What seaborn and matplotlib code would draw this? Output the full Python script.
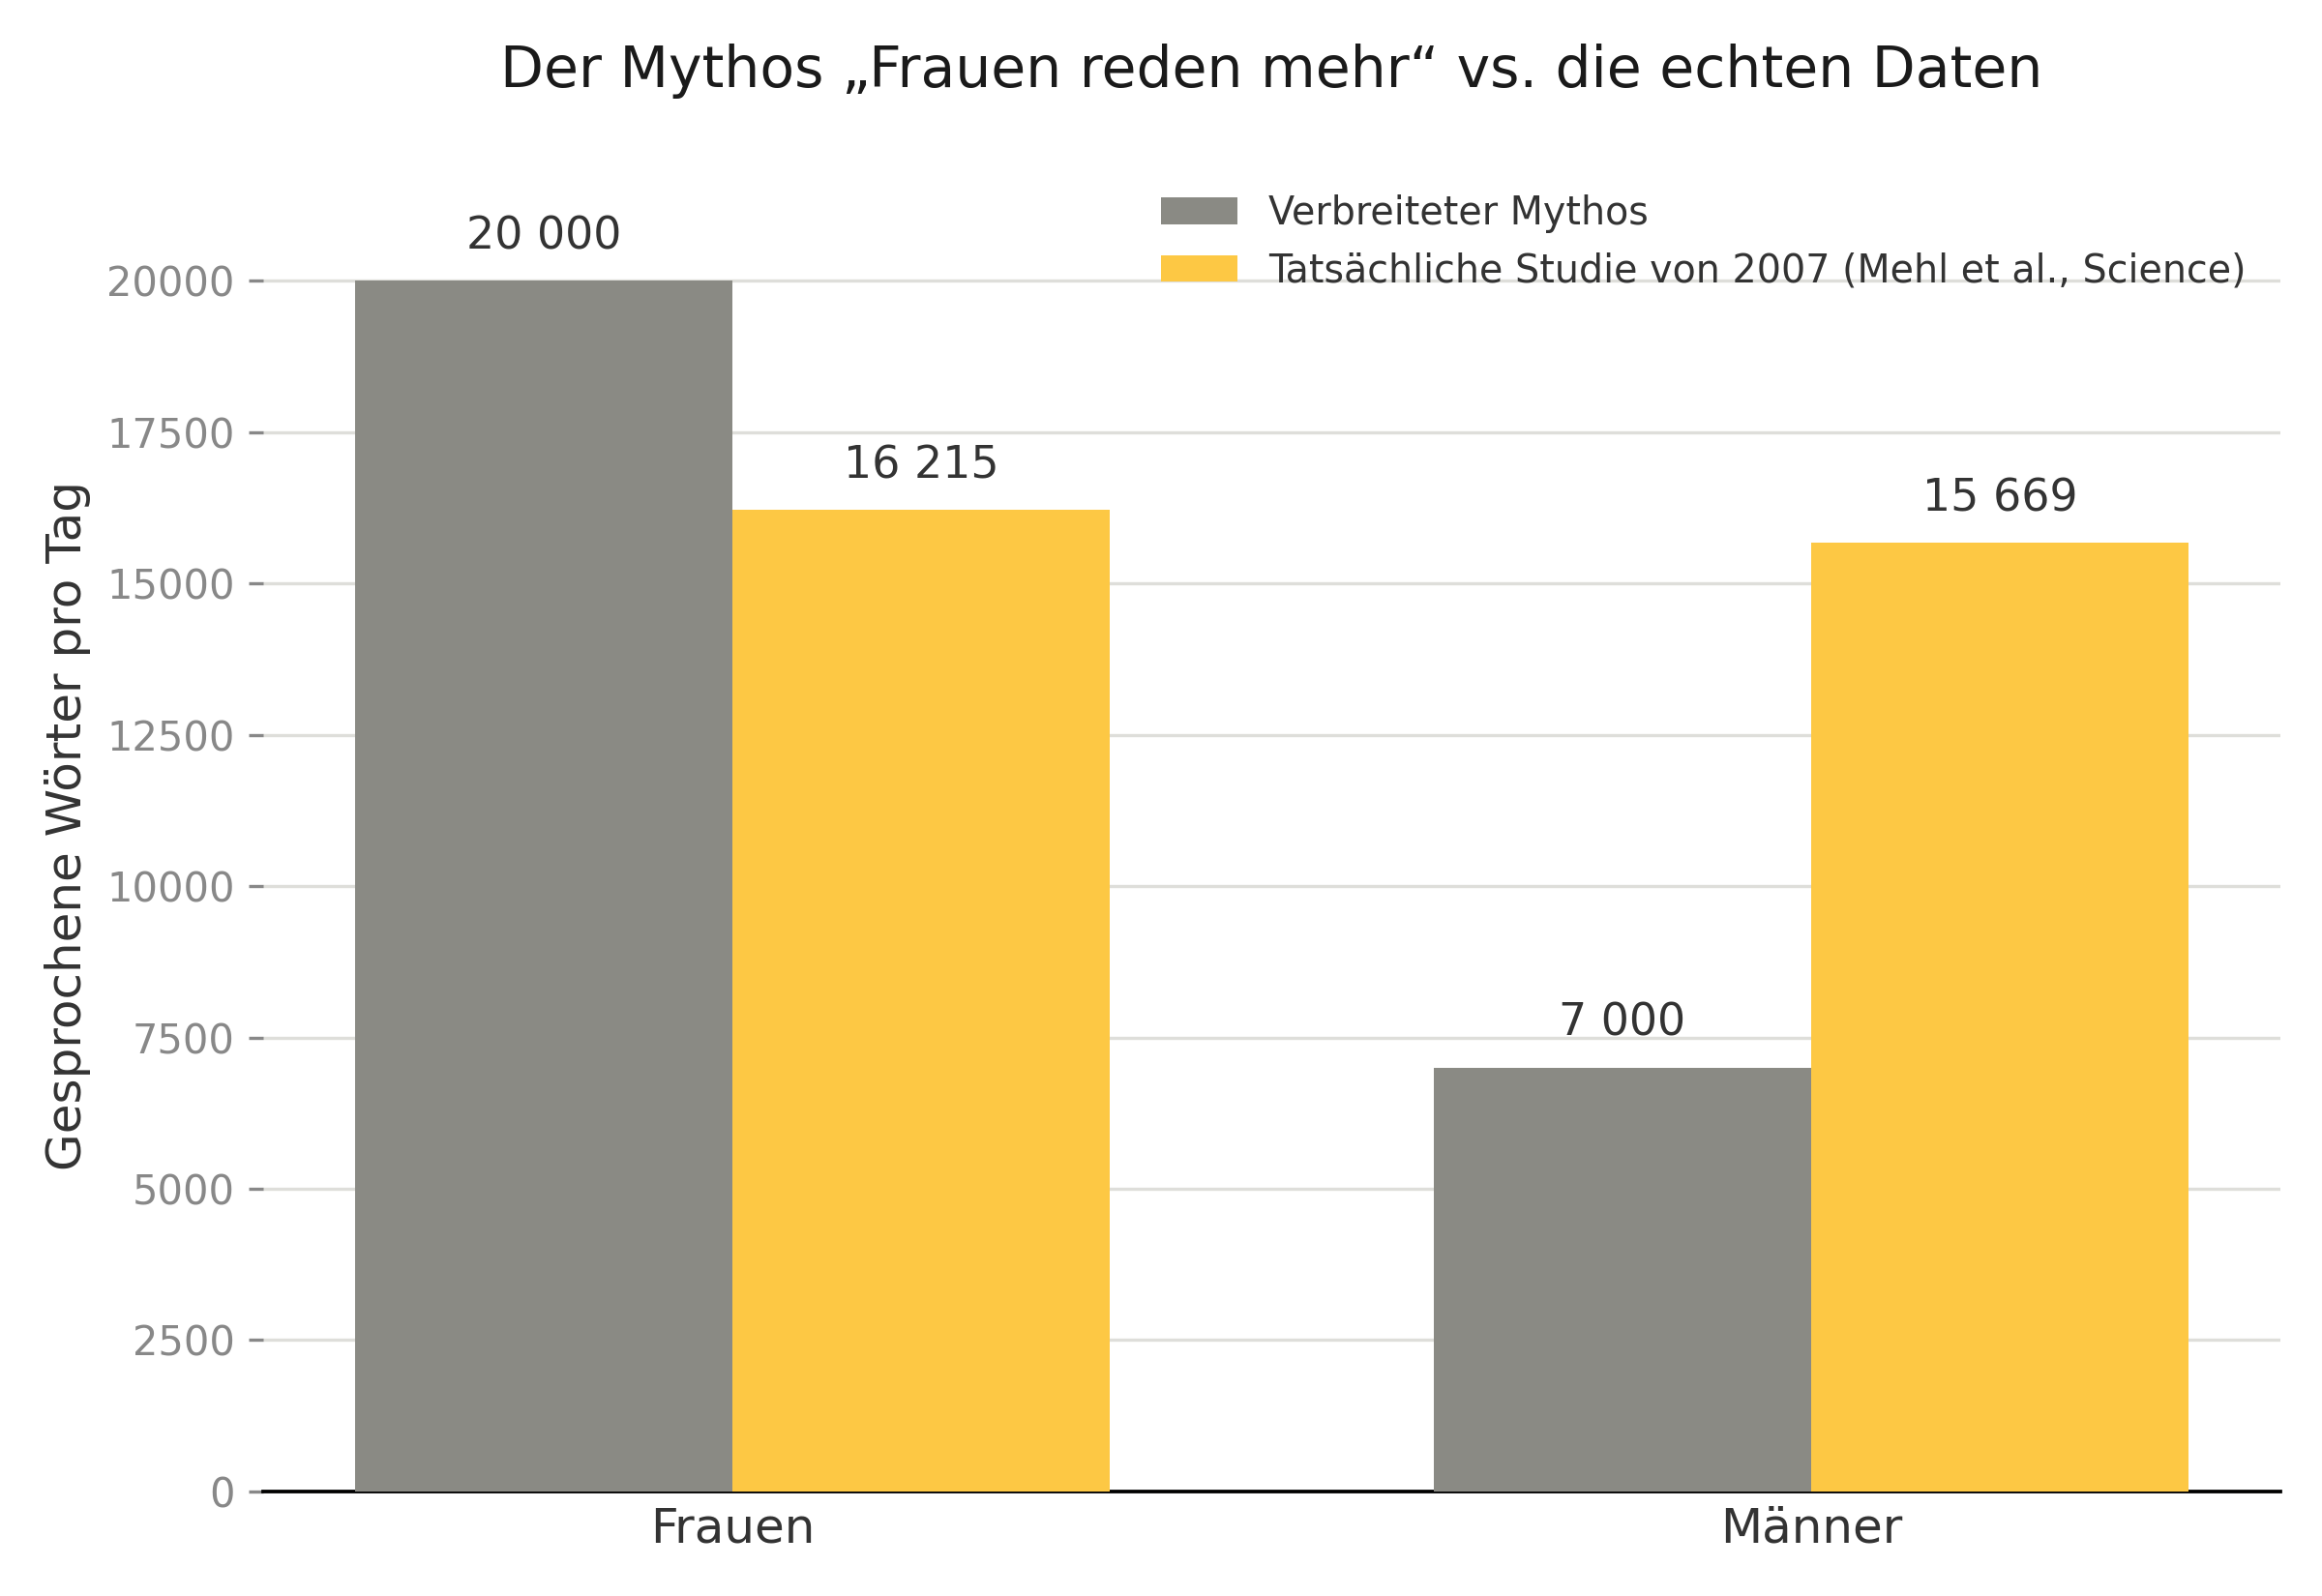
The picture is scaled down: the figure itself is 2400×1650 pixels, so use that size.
import matplotlib
matplotlib.use("Agg")
import matplotlib.pyplot as plt
import seaborn as sns
import pandas as pd

# Data
gruppen = ["Frauen", "Männer"]
serien = ["Verbreiteter Mythos", "Tatsächliche Studie von 2007 (Mehl et al., Science)"]
mythos = [20000, 7000]
studie = [16215, 15669]
y_ticks = [0, 2500, 5000, 7500, 10000, 12500, 15000, 17500, 20000]

df = pd.DataFrame({
    "Gruppe": gruppen * 2,
    "Quelle": [serien[0]] * 2 + [serien[1]] * 2,
    "Woerter": mythos + studie,
})

sns.set_theme(style="white")
plt.rcParams["font.family"] = ["DejaVu Sans"]

fig, ax = plt.subplots(figsize=(8, 5.5), dpi=300)
fig.subplots_adjust(left=0.1133, right=0.982, bottom=0.0655, top=0.90)

farben = {serien[0]: "#8a8a84", serien[1]: "#fdc844"}
sns.barplot(data=df, x="Gruppe", y="Woerter", hue="Quelle", palette=farben,
            width=0.7, saturation=1, linewidth=0, ax=ax, zorder=3)

# Value labels with space as thousands separator
for cont in ax.containers:
    for bar in cont:
        h = bar.get_height()
        ax.annotate(f"{int(round(h)):,}".replace(",", " "),
                    (bar.get_x() + bar.get_width() / 2, h),
                    xytext=(0, 5.5), textcoords="offset points",
                    ha="center", va="bottom", fontsize=11, color="#333333")

ax.set_xlim(-0.435, 1.435)
ax.set_ylim(0, 22000)
ax.set_yticks(y_ticks)
ax.set_yticklabels([str(t) for t in y_ticks])
ax.grid(True, axis="y", color="#dededa", linewidth=0.8, zorder=0)
ax.set_axisbelow(True)

for s in ["top", "right", "left"]:
    ax.spines[s].set_visible(False)
ax.spines["bottom"].set_color("black")
ax.spines["bottom"].set_linewidth(0.9)

ax.tick_params(axis="y", which="both", left=True, length=3.5, width=0.8, pad=3.5,
               color="#888888", labelcolor="#888888", labelsize=10)
ax.tick_params(axis="x", bottom=False, length=0, pad=3.5, labelsize=12,
               labelcolor="#333333")

ax.set_xlabel("")
ax.set_ylabel("Gesprochene Wörter pro Tag", fontsize=12, color="#333333")
ax.set_title("Der Mythos „Frauen reden mehr“ vs. die echten Daten",
             fontsize=14, color="#1a1a1a", pad=18)

leg = ax.legend(loc="upper right", frameon=False, fontsize=9.5, title=None)
for t in leg.get_texts():
    t.set_color("#333333")

fig.savefig("out.png", dpi=300)
